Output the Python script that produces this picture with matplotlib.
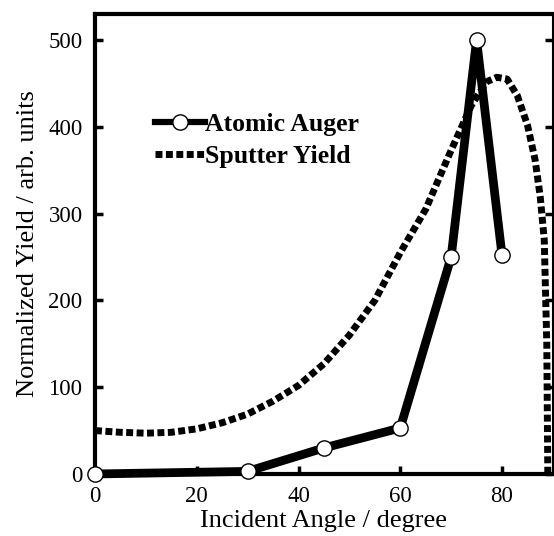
import numpy as np
import matplotlib
matplotlib.use("Agg")
import matplotlib.pyplot as plt

# atomic auger yield (measured points)
auger_angle = [0, 30, 45, 60, 70, 75, 80]
auger_yield = [0, 3, 30, 53, 250, 500, 252]

# sputter yield curve
sput_angle = [0, 5, 10, 15, 20, 25, 30, 35, 40, 45, 50, 55, 60, 65, 70,
              74, 77, 79, 81, 83, 85, 86.5, 87.5, 88.3, 88.8, 89]
sput_yield = [50, 48, 47, 48, 52, 59, 69, 84, 102, 127, 160, 200, 255, 305, 373,
              425, 452, 457, 455, 436, 402, 362, 320, 270, 150, 0]

plt.rcParams['font.family'] = ['Liberation Serif', 'DejaVu Serif']

fig = plt.figure(figsize=(5.54, 5.36), dpi=100)
ax = fig.add_axes([0.1715, 0.1157, 0.8265, 0.8583])

ax.plot(sput_angle, sput_yield, color='black', lw=5, ls=(0, (1, 0.5)),
        label='Sputter Yield', zorder=2)
ax.plot(auger_angle, auger_yield, color='black', lw=6.3, marker='o', ms=11,
        mfc='white', mec='black', mew=1, label='Atomic Auger', zorder=3,
        clip_on=False)

ax.set_xlim(0, 90)
ax.set_ylim(0, 530)
ax.set_xticks([0, 20, 40, 60, 80])
ax.set_yticks([0, 100, 200, 300, 400, 500])

for side in ['left', 'bottom', 'top']:
    ax.spines[side].set_linewidth(3)
ax.spines['right'].set_linewidth(1.5)
ax.tick_params(direction='in', length=6, width=2.5, labelsize=16.5, right=True)
ax.tick_params(axis='x', pad=9)
ax.tick_params(axis='y', pad=9)

ax.set_xlabel('Incident Angle / degree', fontsize=19, labelpad=2)
ax.set_ylabel('Normalized Yield / arb. units', fontsize=19, labelpad=7)

h, l = ax.get_legend_handles_labels()
leg = ax.legend(h[::-1], l[::-1], loc='upper left', bbox_to_anchor=(0.081, 0.835),
                frameon=False, prop={'weight': 'bold', 'size': 18.5},
                handlelength=1.95, handletextpad=0.0, labelspacing=0.35)
leg.get_lines()[0].set_linewidth(4.5)

fig.savefig('out.png', dpi=100)
